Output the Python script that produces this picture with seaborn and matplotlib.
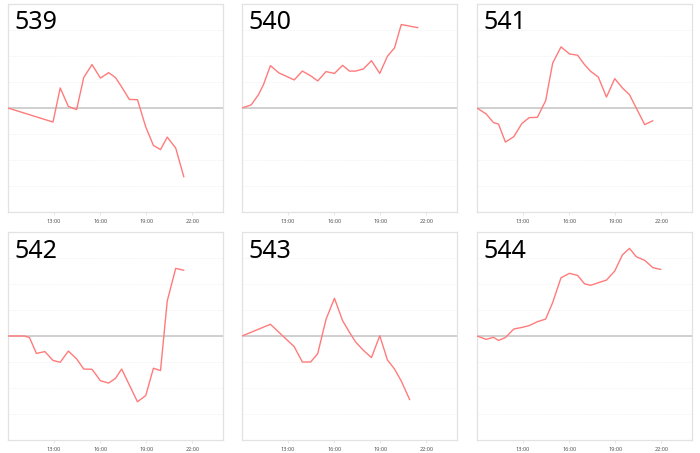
import numpy as np
import pandas as pd
import matplotlib
matplotlib.use("Agg")
import matplotlib.pyplot as plt
import seaborn as sns

nan = np.nan

# shared sampling times (decimal hours)
times = [10.0, 10.6, 11.07, 11.4, 11.85, 12.4, 12.93, 13.4, 13.93, 14.47, 14.93, 15.47,
         16.02, 16.55, 17.0, 17.4, 17.9, 18.43, 18.97, 19.47, 19.93, 20.37, 20.92, 21.45, 21.97]

titles = ["539", "540", "541", "542", "543", "544"]

v539 = [0, nan, nan, nan, nan, nan, -0.54, 0.77, 0.06, -0.06, 1.17, 1.67, 1.15, 1.36, 1.17,
        0.81, 0.33, 0.32, -0.73, -1.44, -1.60, -1.12, -1.54, -2.65, nan]
v540 = [0, 0.12, 0.51, 0.90, 1.63, 1.35, nan, 1.08, 1.42, 1.24, 1.04, 1.40, 1.33, 1.64, 1.42,
        1.42, 1.50, 1.82, 1.33, 1.99, 2.31, 3.21, nan, 3.09, nan]
v541 = [0, -0.23, -0.56, -0.62, -1.31, -1.10, -0.59, -0.37, -0.36, 0.28, 1.73, 2.35, 2.08, 2.03,
        1.67, 1.41, 1.19, 0.42, 1.13, 0.77, 0.51, nan, -0.64, -0.49, nan]
v542 = [0, 0, 0, -0.06, -0.67, -0.60, -0.94, -1.01, -0.58, -0.88, -1.27, -1.28, -1.72, -1.81,
        -1.63, -1.27, nan, -2.53, -2.29, -1.24, -1.33, 1.35, 2.60, 2.53, nan]
v543 = [0, nan, nan, nan, 0.45, nan, nan, -0.41, -1.00, -1.00, -0.68, 0.64, 1.45, 0.59, 0.14,
        -0.23, -0.55, -0.83, 0.01, -0.92, -1.27, -1.73, -2.45, nan, nan]
v544 = [0, -0.13, -0.05, -0.17, -0.06, 0.27, 0.33, 0.40, 0.55, 0.65, 1.29, 2.24, 2.41, 2.33,
        2.01, 1.95, 2.05, 2.15, 2.50, 3.12, 3.37, 3.05, 2.91, 2.63, 2.56]

series = [v539, v540, v541, v542, v543, v544]

xtick_pos = [13, 16, 19, 22]
xtick_labels = ["13:00", "16:00", "19:00", "22:00"]

sns.set_style("white")
plt.rcParams["font.family"] = ["Noto Sans", "DejaVu Sans"]

W, H = 700, 453
fig = plt.figure(figsize=(W / 100, H / 100), dpi=100)
fig.patch.set_facecolor("white")

col_left = [8, 242, 477]
row_top = [4, 232]
pw, ph = 215, 208

line_color = "#ff7b7b"

for i, (title, vals) in enumerate(zip(titles, series)):
    r, c = divmod(i, 3)
    left = col_left[c] / W
    bottom = 1 - (row_top[r] + ph) / H
    ax = fig.add_axes([left, bottom, pw / W, ph / H])
    df = pd.DataFrame({"time": times, "value": vals}).dropna()
    ax.axhline(0, color="#c4c4c4", lw=1.1, zorder=1)
    sns.lineplot(data=df, x="time", y="value", ax=ax, color=line_color,
                 linewidth=1.0, sort=False, zorder=3)
    ax.set_xlim(10, 24)
    ax.set_ylim(-4, 4)
    ax.set_yticks(range(-3, 4))
    ax.set_yticklabels([])
    ax.tick_params(axis="y", length=0)
    ax.grid(axis="y", color="#f0f0f0", linestyle=(0, (1, 1)), lw=0.6)
    ax.grid(axis="x", visible=False)
    ax.set_xticks(xtick_pos)
    ax.set_xticklabels(xtick_labels, fontsize=4, color="#555555")
    ax.tick_params(axis="x", length=2, width=0.5, color="#dddddd", pad=3, bottom=True)
    ax.set_xlabel("")
    ax.set_ylabel("")
    for s in ax.spines.values():
        s.set_color("#e2e2e2")
        s.set_linewidth(0.9)
    ax.text(0.028, 1 - 25.5 / ph, title, transform=ax.transAxes, ha="left", va="baseline",
            fontsize=18, color="black")

fig.savefig("out.png", dpi=100, facecolor="white")
